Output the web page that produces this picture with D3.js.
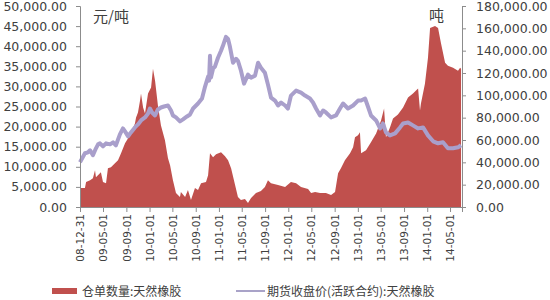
<!DOCTYPE html>
<html>
<head>
<meta charset="utf-8">
<script src="https://cdn.jsdelivr.net/npm/d3@7"></script>
<style>
  body { margin: 0; background: #fff; }
  .axis text { font-family: "DejaVu Sans", sans-serif; fill: #404040; }
  .axis path, .axis line { stroke: #8c8c8c; }
  .unit, .legend text { font-family: "Noto Sans CJK SC", sans-serif; fill: #404040; }
</style>
</head>
<body>
<div class="chart"></div>
<script>
//x axis tick dates and their labels
var tickDates = ["2008-12-31","2009-05-01","2009-09-01","2010-01-01","2010-05-01","2010-09-01",
  "2011-01-01","2011-05-01","2011-09-01","2012-01-01","2012-05-01","2012-09-01",
  "2013-01-01","2013-05-01","2013-09-01","2014-01-01","2014-05-01"];
var tickLabels = ["08-12-31","09-05-01","09-09-01","10-01-01","10-05-01","10-09-01",
  "11-01-01","11-05-01","11-09-01","12-01-01","12-05-01","12-09-01",
  "13-01-01","13-05-01","13-09-01","14-01-01","14-05-01"];

//futures closing price (left axis, 元/吨)
var priceDates = ["2008-12-31","2009-01-26","2009-02-11","2009-02-22","2009-03-09","2009-03-25",
  "2009-04-05","2009-04-15","2009-05-01","2009-05-17","2009-06-07","2009-06-23","2009-07-08",
  "2009-07-29","2009-08-14","2009-08-25","2009-09-10","2009-09-25","2009-10-16","2009-11-01",
  "2009-11-17","2009-12-08","2009-12-24","2010-01-03","2010-01-14","2010-01-30","2010-02-14",
  "2010-03-02","2010-03-18","2010-04-08","2010-04-24","2010-05-04","2010-05-20","2010-06-10",
  "2010-06-26","2010-07-17","2010-08-02","2010-08-18","2010-09-13","2010-10-04","2010-10-20",
  "2010-11-05","2010-11-10","2010-11-15","2010-11-20","2010-12-01","2010-12-11","2010-12-27",
  "2011-01-12","2011-01-22","2011-02-07","2011-02-18","2011-02-28","2011-03-16","2011-04-01",
  "2011-04-11","2011-04-27","2011-05-13","2011-06-03","2011-06-19","2011-07-10","2011-07-26",
  "2011-08-10","2011-08-31","2011-09-16","2011-10-02","2011-10-23","2011-11-08","2011-11-24",
  "2011-12-15","2011-12-30","2012-01-15","2012-02-11","2012-03-08","2012-03-29","2012-04-24",
  "2012-05-10","2012-05-26","2012-06-16","2012-07-02","2012-07-17","2012-08-13","2012-09-08",
  "2012-09-29","2012-10-15","2012-11-10","2012-12-07","2013-01-02","2013-01-18","2013-02-08",
  "2013-02-23","2013-03-11","2013-04-07","2013-04-28","2013-05-13","2013-05-29","2013-06-19",
  "2013-07-16","2013-08-11","2013-08-27","2013-09-22","2013-10-18","2013-11-14","2013-12-10",
  "2014-01-05","2014-02-01","2014-02-27","2014-03-25","2014-04-20","2014-05-17","2014-06-12",
  "2014-06-28"];
var priceValues = [11140,13370,13610,14110,12870,14600,
  15590,15840,15100,15840,15590,16090,15350,
  18070,19550,18810,17570,18560,19800,20540,
  21530,22280,23270,24500,23510,22770,24260,
  24750,25000,25250,24010,22770,22280,21290,
  21780,22520,23020,24500,25740,26980,29950,
  32420,31430,37620,32180,34400,34900,37130,
  38860,40100,42320,41830,39850,35890,36880,
  36380,33910,30690,32920,32180,32670,35890,
  34650,33410,30440,27230,26480,25250,25990,
  25250,24500,27720,28960,28460,27720,26980,
  25990,24500,22770,24010,23510,22280,22770,
  24500,25740,24500,25250,26480,26480,26980,
  25000,22770,21530,19550,20790,18560,17820,
  18320,19800,20790,21040,20300,19550,19800,
  17820,16340,15840,16090,14600,14600,14850,
  15350];

//warehouse warrants (right axis, 吨)
var stockDates = ["2008-12-31","2009-01-05","2009-01-26","2009-02-01","2009-02-22","2009-03-09",
  "2009-03-20","2009-03-25","2009-04-15","2009-04-20","2009-05-01","2009-05-17","2009-05-27",
  "2009-06-12","2009-07-03","2009-07-19","2009-08-04","2009-08-25","2009-09-10","2009-09-25",
  "2009-10-16","2009-10-22","2009-11-01","2009-11-12","2009-11-17","2009-11-28","2009-12-08",
  "2009-12-24","2010-01-09","2010-01-19","2010-01-30","2010-02-14","2010-03-02","2010-03-23",
  "2010-04-08","2010-04-19","2010-05-04","2010-05-20","2010-06-10","2010-06-15","2010-07-07",
  "2010-07-22","2010-08-07","2010-08-28","2010-09-13","2010-09-29","2010-10-25","2010-11-05",
  "2010-11-15","2010-12-01","2010-12-17","2011-01-12","2011-02-02","2011-02-18","2011-03-06",
  "2011-03-27","2011-04-11","2011-04-27","2011-05-18","2011-06-03","2011-06-19","2011-07-15",
  "2011-08-10","2011-08-31","2011-09-16","2011-10-02","2011-11-08","2011-12-15","2012-01-15",
  "2012-02-11","2012-03-08","2012-04-14","2012-04-30","2012-05-21","2012-06-16","2012-07-17",
  "2012-08-13","2012-09-03","2012-09-19","2012-10-04","2012-10-25","2012-11-21","2012-12-07",
  "2012-12-17","2013-01-02","2013-01-12","2013-01-18","2013-02-13","2013-03-11","2013-04-07",
  "2013-05-03","2013-05-19","2013-05-29","2013-06-19","2013-07-05","2013-07-31","2013-08-27",
  "2013-09-22","2013-10-18","2013-11-03","2013-11-14","2013-11-24","2013-11-29","2013-12-20",
  "2014-01-05","2014-01-16","2014-02-11","2014-02-27","2014-03-15","2014-04-05","2014-04-20",
  "2014-05-17","2014-06-12","2014-06-23","2014-06-28"];
var stockValues = [22280,16930,16930,22280,24060,25840,
  32970,26730,30290,31190,22280,21380,34750,
  35640,39200,41880,48110,57020,61480,65930,
  74840,80190,84650,95340,101570,89100,83750,
  101570,106920,123850,113160,90880,73060,59700,
  43660,37420,24060,12470,8910,13370,8910,
  15150,6240,16930,15150,21380,22280,28510,
  48110,44550,47220,49010,45440,41880,34750,
  19600,8910,6240,7130,3560,8020,12470,
  14260,17820,24060,21380,19600,17820,22280,
  21380,17820,16040,12470,13370,12470,12470,
  10690,13370,30290,34750,41880,48110,53460,
  62370,64150,66830,48110,50790,57920,65930,
  77520,88210,62370,71280,79300,82860,89100,
  98010,101570,104250,106030,86430,92660,110480,
  133650,160380,162160,160380,146120,129200,126520,
  124740,122070,124740,123850];

var seriesNames = ["仓单数量:天然橡胶", "期货收盘价(活跃合约):天然橡胶"];

var margin = {top: 6, right: 88, bottom: 93, left: 80},
    width = 550 - margin.left - margin.right,
    height = 300 - margin.top - margin.bottom;

var parseDate = d3.timeParse("%Y-%m-%d");

var x = d3.scaleTime()
    .domain([parseDate("2008-12-31"), parseDate("2014-07-03")])
    .range([0, width]);
var yLeft = d3.scaleLinear().domain([0, 50000]).range([height, 0]);
var yRight = d3.scaleLinear().domain([0, 180000]).range([height, 0]);

var price = priceDates.map(function(d, i) {
    return {date: parseDate(d), value: priceValues[i]};
});
var stock = stockDates.map(function(d, i) {
    return {date: parseDate(d), value: stockValues[i]};
});

var svg = d3.select(".chart").append("svg")
    .attr("width", 550)
    .attr("height", 300)
    .append("g")
    .attr("transform", "translate(" + margin.left + "," + margin.top + ")");

//red area for warrants, on the right axis
var area = d3.area()
    .x(function(d) { return x(d.date); })
    .y0(height)
    .y1(function(d) { return yRight(d.value); });

svg.append("path")
    .datum(stock)
    .attr("d", area)
    .style("fill", "#c0504d");

//price line on top
var line = d3.line()
    .x(function(d) { return x(d.date); })
    .y(function(d) { return yLeft(d.value); });

svg.append("path")
    .datum(price)
    .attr("d", line)
    .style("fill", "none")
    .style("stroke", "#a99fcb")
    .style("stroke-width", 4)
    .style("stroke-linejoin", "round");

var fmt = d3.format(",.2f");

svg.append("g")
    .attr("class", "y axis")
    .call(d3.axisLeft(yLeft).tickValues(d3.range(0, 50001, 5000))
        .tickFormat(fmt).tickSizeOuter(0).tickSize(4).tickPadding(9))
    .selectAll("text").style("font-size", "12.5px");

svg.append("g")
    .attr("class", "y axis")
    .attr("transform", "translate(" + width + ",0)")
    .call(d3.axisRight(yRight).tickValues(d3.range(0, 180001, 20000))
        .tickFormat(fmt).tickSizeOuter(0).tickSize(4).tickPadding(10))
    .selectAll("text").style("font-size", "12.5px");

var xAxis = svg.append("g")
    .attr("class", "x axis")
    .attr("transform", "translate(0," + height + ")")
    .call(d3.axisBottom(x).tickValues(tickDates.map(parseDate))
        .tickFormat(function(d, i) { return tickLabels[i]; })
        .tickSizeOuter(0).tickSize(5));

xAxis.selectAll("text")
    .style("font-size", "10.5px")
    .style("text-anchor", "end")
    .attr("transform", "rotate(-90)")
    .attr("x", -7)
    .attr("y", 0)
    .attr("dy", "0.35em");

//unit labels
svg.append("text").attr("class", "unit")
    .attr("x", 13).attr("y", 16)
    .style("font-size", "15px")
    .text("元/吨");
svg.append("text").attr("class", "unit")
    .attr("x", 349).attr("y", 15)
    .style("font-size", "15px")
    .text("吨");

//legend
var legend = d3.select("svg").append("g").attr("class", "legend");
legend.append("rect")
    .attr("x", 52).attr("y", 288)
    .attr("width", 25).attr("height", 6)
    .style("fill", "#c0504d");
legend.append("text")
    .attr("x", 82).attr("y", 296)
    .style("font-size", "12px")
    .text(seriesNames[0]);
legend.append("line")
    .attr("x1", 236).attr("x2", 265)
    .attr("y1", 291).attr("y2", 291)
    .style("stroke", "#a9a3c8")
    .style("stroke-width", 2);
legend.append("text")
    .attr("x", 267).attr("y", 296)
    .style("font-size", "12px")
    .text(seriesNames[1]);
</script>
</body>
</html>
